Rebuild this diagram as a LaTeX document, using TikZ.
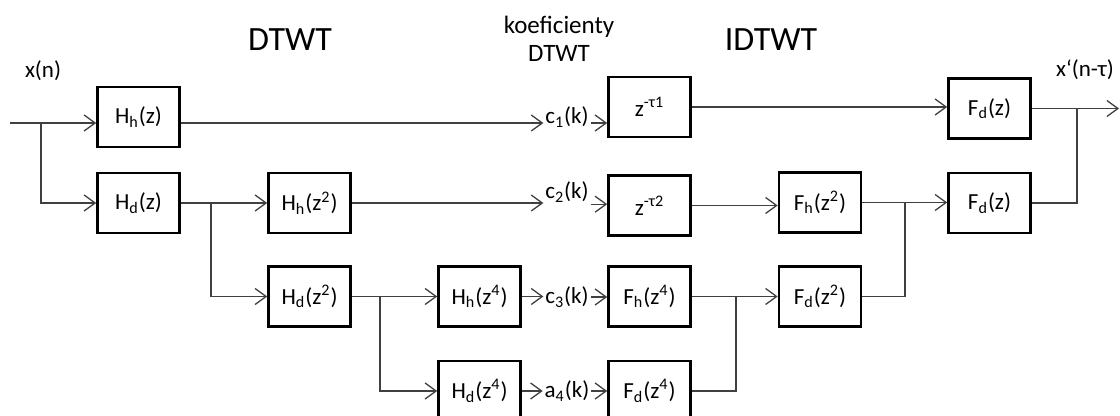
\documentclass[tikz,border=0pt]{standalone}
\usepackage{fontspec}
\setmainfont{Carlito}
\usetikzlibrary{arrows.meta}
\tikzset{
  blok/.style={draw, line width=1.3pt, minimum width=41pt, minimum height=30pt,
    inner sep=0pt, font=\fontsize{11.5}{13}\selectfont},
  spoj/.style={line width=0.65pt, draw=black!75},
  sip/.style={spoj, -{Straight Barb[length=5.5pt,width=8pt]}},
  popis/.style={inner sep=0.8pt, font=\fontsize{11.5}{13}\selectfont},
}
\begin{document}
\begin{tikzpicture}[x=0.5pt, y=-0.5pt]
  \useasboundingbox (0,0) rectangle (1120,416);
  \clip (0,0) rectangle (1120,416);

  % --- nadpisy ---
  \node[font=\fontsize{17}{20}\selectfont] (tDTWT) at (290,40) {DTWT};
  \node[font=\fontsize{17}{20}\selectfont] (tIDTWT) at (771,40) {IDTWT};
  \node[align=center, font=\fontsize{12.5}{14}\selectfont] (koef) at (559,39) {koeficienty\\DTWT};
  \node[popis] (vstup) at (43,71) {x(n)};
  \node[popis] (vystup) at (1085,70) {x‘(n-τ)};

  % --- analyza (DTWT) ---
  \node[blok] (Hh1) at (138.5,117) {H\textsubscript{h}(z)};
  \node[blok] (Hd1) at (138.5,203) {H\textsubscript{d}(z)};
  \node[blok] (Hh2) at (309.5,203) {H\textsubscript{h}(z\textsuperscript{2})};
  \node[blok] (Hd2) at (309.5,296.5) {H\textsubscript{d}(z\textsuperscript{2})};
  \node[blok] (Hh4) at (479.5,296.5) {H\textsubscript{h}(z\textsuperscript{4})};
  \node[blok] (Hd4) at (479.5,391) {H\textsubscript{d}(z\textsuperscript{4})};

  % --- koeficienty ---
  \node[popis] (c1) at (567,117) {c\textsubscript{1}(k)};
  \node[popis] (c2) at (567,192) {c\textsubscript{2}(k)};
  \node[popis] (c3) at (567,297) {c\textsubscript{3}(k)};
  \node[popis] (a4) at (567,391) {a\textsubscript{4}(k)};

  % --- synteza (IDTWT) ---
  \node[blok] (D1) at (649.5,107) {z\textsuperscript{-τ1}};
  \node[blok] (D2) at (649.5,205.5) {z\textsuperscript{-τ2}};
  \node[blok] (Fh4) at (649.5,296.5) {F\textsubscript{h}(z\textsuperscript{4})};
  \node[blok] (Fd4) at (649.5,391) {F\textsubscript{d}(z\textsuperscript{4})};
  \node[blok] (Fh2) at (820,202.5) {F\textsubscript{h}(z\textsuperscript{2})};
  \node[blok] (Fd2) at (820,296.5) {F\textsubscript{d}(z\textsuperscript{2})};
  \node[blok] (Fd1a) at (989.5,108.5) {F\textsubscript{d}(z)};
  \node[blok] (Fd1b) at (989.5,203) {F\textsubscript{d}(z)};

  % --- uzly vetveni ---
  \coordinate (in) at (10,123);
  \coordinate (j0) at (41,123);
  \coordinate (j1) at (211,203);
  \coordinate (j2) at (380,296.5);
  \coordinate (j3) at (736,296.5);
  \coordinate (j4) at (905,202.5);
  \coordinate (j5) at (1077,108.5);
  \coordinate (out) at (1119,108.5);

  % --- spoje ---
  \draw[sip] (in) -- (in -| Hh1.west);
  \draw[sip] (j0) |- (Hd1.west);
  \draw[sip] (Hh1.east |- in) -- (in -| c1.west);
  \draw[sip] (c1.east |- in) -- (in -| D1.west);

  \draw[sip] (Hd1.east) -- (Hh2.west);
  \draw[sip] (j1) |- (Hd2.west);
  \draw[sip] (Hh2.east) -- (Hh2.east -| c2.west);
  \draw[sip] (c2.south east) -- (c2.south east -| D2.west);

  \draw[sip] (Hd2.east) -- (Hh4.west);
  \draw[sip] (j2) |- (Hd4.west);
  \draw[sip] (Hh4.east) -- (Hh4.east -| c3.west);
  \draw[sip] (c3.east) -- (c3.east -| Fh4.west);
  \draw[sip] (Hd4.east) -- (Hd4.east -| a4.west);
  \draw[sip] (a4.east) -- (a4.east -| Fd4.west);

  \draw[sip] (D1.east) -- (D1.east -| Fd1a.west);
  \draw[sip] (D2.east) -- (D2.east -| Fh2.west);
  \draw[sip] (Fh4.east) -- (Fd2.west);
  \draw[spoj] (Fd4.east) -| (j3);
  \draw[sip] (Fh2.east) -- (Fh2.east -| Fd1b.west);
  \draw[spoj] (Fd2.east) -| (j4);
  \draw[sip] (Fd1a.east) -- (out);
  \draw[spoj] (Fd1b.east) -| (j5);
\end{tikzpicture}
\end{document}
